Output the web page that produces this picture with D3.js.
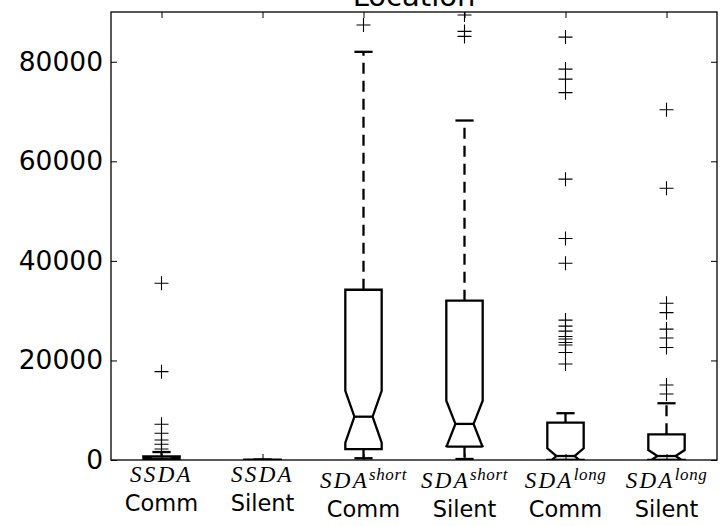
<!DOCTYPE html>
<html>
<head>
<meta charset="utf-8">
<script src="https://cdn.jsdelivr.net/npm/d3@7"></script>
<style>
  html, body { margin: 0; padding: 0; background: #fff; }
  svg { display: block; }
</style>
</head>
<body>
<svg id="chart" width="721" height="526"></svg>
<script>
// ---- data ----
const titleText = "Location";
const mathLabels = ["SSDA", "SSDA", "SDA", "SDA", "SDA", "SDA"];
const supLabels  = ["", "", "short", "short", "long", "long"];
const subLabels  = ["Comm", "Silent", "Comm", "Silent", "Comm", "Silent"];
const yTicks = [0, 20000, 40000, 60000, 80000];

const q1Values      = [0,     0,   2200,  2700,  0,     0];
const medianValues  = [150,   0,   8700,  7250,  800,   800];
const q3Values      = [700,   60,  34200, 32000, 7500,  5150];
const notchLoValues = [-200,  0,   3500,  2600,  -750,  -400];
const notchHiValues = [500,   0,   13900, 11900, 2350,  2000];
const whiskLoValues = [0,     0,   350,   200,   0,     0];
const whiskHiValues = [1600,  80,  82000, 68200, 9400,  11400];
const outliers1 = [35500, 17750, 7170, 5360, 4020, 3150, 2210];
const outliers2 = [];
const outliers3 = [87400];
const outliers4 = [89400, 86100, 85100];
const outliers5 = [84960, 78530, 76520, 73800, 56420, 44490, 39530, 28100, 26900, 25900, 24800, 24300, 23600, 23100, 21600, 19300];
const outliers6 = [70350, 54600, 31500, 29600, 26300, 24500, 22600, 15070, 13260];
const outlierLists = [outliers1, outliers2, outliers3, outliers4, outliers5, outliers6];

// ---- layout ----
const L = 111, R = 717, T = 12, B = 460;
const svg = d3.select("#chart");
const x = d3.scaleLinear().domain([0.5, 6.5]).range([L, R]);
const y = d3.scaleLinear().domain([0, 90000]).range([B, T]);
const halfW = 0.18; // in category units

const boxes = mathLabels.map((m, i) => ({
  pos: i + 1,
  q1: q1Values[i], med: medianValues[i], q3: q3Values[i],
  nlo: notchLoValues[i], nhi: notchHiValues[i],
  wlo: whiskLoValues[i], whi: whiskHiValues[i],
  out: outlierLists[i]
}));

svg.append("defs").append("clipPath").attr("id", "plotclip")
  .append("rect").attr("x", L).attr("y", T).attr("width", R - L).attr("height", B - T);

const plot = svg.append("g").attr("clip-path", "url(#plotclip)");

const lw = 2.3;
boxes.forEach(b => {
  const c = x(b.pos), l = x(b.pos - halfW), r = x(b.pos + halfW);
  const cl = x(b.pos - halfW / 2), cr = x(b.pos + halfW / 2);
  const g = plot.append("g");
  // whiskers
  g.append("line").attr("x1", c).attr("x2", c).attr("y1", y(b.q3)).attr("y2", y(b.whi))
    .attr("stroke", "#000").attr("stroke-width", lw).attr("stroke-dasharray", "11,7");
  g.append("line").attr("x1", c).attr("x2", c).attr("y1", y(b.q1)).attr("y2", y(b.wlo))
    .attr("stroke", "#000").attr("stroke-width", lw).attr("stroke-dasharray", "11,7");
  // caps
  [b.whi, b.wlo].forEach(v => {
    g.append("line").attr("x1", cl).attr("x2", cr).attr("y1", y(v)).attr("y2", y(v))
      .attr("stroke", "#000").attr("stroke-width", lw);
  });
  // notched box
  const pts = [[l, b.q1], [l, b.nlo], [cl, b.med], [l, b.nhi], [l, b.q3],
               [r, b.q3], [r, b.nhi], [cr, b.med], [r, b.nlo], [r, b.q1]];
  g.append("path")
    .attr("d", d3.line().x(p => p[0]).y(p => y(p[1]))(pts) + "Z")
    .attr("fill", "none").attr("stroke", "#000").attr("stroke-width", lw)
    .attr("stroke-linejoin", "miter");
  // median
  g.append("line").attr("x1", cl).attr("x2", cr).attr("y1", y(b.med)).attr("y2", y(b.med))
    .attr("stroke", "#000").attr("stroke-width", lw);
  // outliers
  g.selectAll("path.flier").data(b.out).enter().append("path")
    .attr("class", "flier")
    .attr("transform", v => `translate(${c},${y(v)})`)
    .attr("d", "M-7,0H7M0,-7V7")
    .attr("stroke", "#000").attr("stroke-width", 1.1).attr("fill", "none");
});

// ---- axes ----
const tickFont = "'DejaVu Sans', 'Bitstream Vera Sans', sans-serif";
const yAxis = svg.append("g").attr("transform", `translate(${L},0)`)
  .call(d3.axisLeft(y).tickValues(yTicks).tickFormat(d3.format("d")).tickSizeInner(-6).tickSizeOuter(0).tickPadding(8));
yAxis.selectAll("text").attr("font-family", tickFont).attr("font-size", "26.5px").attr("fill", "#000");

const yAxisR = svg.append("g").attr("transform", `translate(${R},0)`)
  .call(d3.axisRight(y).tickValues(yTicks).tickFormat("").tickSizeInner(-6).tickSizeOuter(0));
const xAxisT = svg.append("g").attr("transform", `translate(0,${T})`)
  .call(d3.axisTop(x).tickValues(boxes.map(b => b.pos)).tickFormat("").tickSizeInner(-6).tickSizeOuter(0));
const xAxisB = svg.append("g").attr("transform", `translate(0,${B})`)
  .call(d3.axisBottom(x).tickValues(boxes.map(b => b.pos)).tickFormat("").tickSizeInner(-6).tickSizeOuter(0));
[yAxis, yAxisR, xAxisT, xAxisB].forEach(a => {
  a.select(".domain").remove();
  a.selectAll(".tick line").attr("stroke", "#000").attr("stroke-width", 1);
});

// frame
svg.append("rect").attr("x", L).attr("y", T).attr("width", R - L).attr("height", B - T)
  .attr("fill", "none").attr("stroke", "#000").attr("stroke-width", 1.3);

// x tick labels (math + text)
const mathFont = "'Liberation Serif', 'Times New Roman', serif";
boxes.forEach((b, i) => {
  const c = x(b.pos);
  const hasSup = supLabels[i] !== "";
  const base1 = hasSup ? 488 : 482;
  const base2 = hasSup ? 517 : 511;
  const t = svg.append("text").attr("x", c).attr("y", base1)
    .attr("text-anchor", "middle").attr("font-family", mathFont)
    .attr("font-style", "italic").attr("fill", "#000");
  t.append("tspan").attr("font-size", "23px").attr("letter-spacing", "2.3px").text(mathLabels[i]);
  if (hasSup) {
    t.append("tspan").attr("font-size", "17px").attr("letter-spacing", "0.6px")
      .attr("dy", -8).text(supLabels[i]);
  }
  svg.append("text").attr("x", c).attr("y", base2)
    .attr("text-anchor", "middle").attr("font-family", tickFont)
    .attr("font-size", "22.5px").attr("fill", "#000").text(subLabels[i]);
});

// title
svg.append("text").attr("x", (L + R) / 2).attr("y", 5.5)
  .attr("text-anchor", "middle").attr("font-family", tickFont)
  .attr("font-size", "29px").attr("fill", "#000").text(titleText);
</script>
</body>
</html>
